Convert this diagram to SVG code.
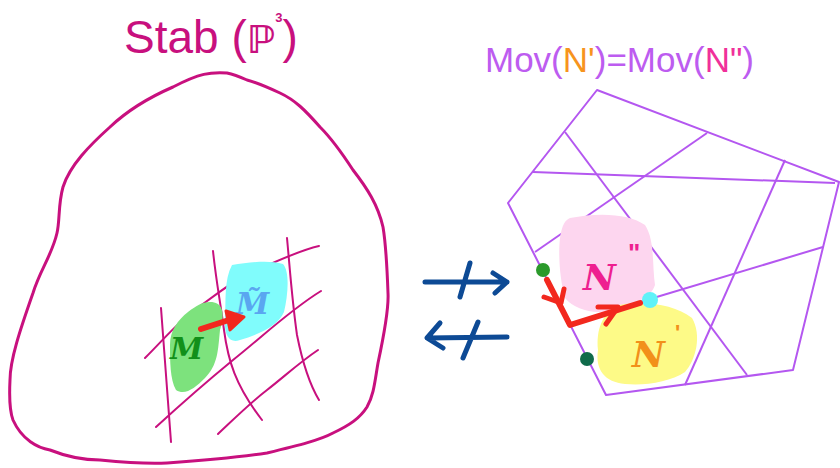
<svg xmlns="http://www.w3.org/2000/svg" width="840" height="468" viewBox="0 0 840 468">
<style>
.mag{fill:none;stroke:#c8107e;stroke-linecap:round;stroke-linejoin:round}
.pur{fill:none;stroke:#b457f0;stroke-width:2;stroke-linejoin:round}
.blu{fill:none;stroke:#0d4a95;stroke-width:5;stroke-linecap:round;stroke-linejoin:round}
.red{fill:none;stroke:#f2281e;stroke-linecap:round;stroke-linejoin:round}
.hand{font-family:"DejaVu Serif",serif;font-style:italic;font-weight:bold}
</style>
<rect width="840" height="468" fill="#fff"/>
<g id="stab">
<text x="124" y="53" font-family="Liberation Sans, sans-serif" font-size="46" fill="#c8107e">Stab (<tspan font-family="DejaVu Sans, sans-serif" font-size="38" font-weight="bold">ℙ</tspan><tspan dy="-31" font-size="13" font-weight="bold">3</tspan><tspan dy="31">)</tspan></text>
<path class="mag" stroke-width="3" d="M227,73 C210,72 200,73 173,87 C150,97 130,108 110,127 C90,145 70,165 63,187 C58,205 60,220 57,233 C52,255 40,270 33,293 C20,330 10,360 10,380 C9,400 10,412 13,420 C22,440 38,448 50,450 C70,458 90,460 100,460 C130,463 150,464 167,463 C210,460 240,457 267,453 C300,445 320,440 333,433 C350,425 360,418 367,407 C374,395 375,380 378,363 C384,335 389,310 388,293 C387,265 386,245 383,227 C378,205 367,188 353,170 C340,150 330,137 320,127 C305,110 295,100 280,93 C265,86 255,82 247,80 C238,76 232,74 227,73 Z"/>
</g>
<g id="grid">
<path class="mag" stroke-width="2" d="M161,308 L171,442"/>
<path class="mag" stroke-width="2" d="M213,251 C216,280 220,300 224,330 C228,360 235,385 262,420"/>
<path class="mag" stroke-width="2" d="M287,238 C290,270 292,300 297,335 C303,365 310,385 319,400"/>
<path class="mag" stroke-width="2" d="M145,358 C165,338 180,320 195,310 C215,295 230,283 250,273 C275,262 300,250 319,246"/>
<path class="mag" stroke-width="2" d="M156,427 C180,405 205,383 233,360 C262,337 290,310 321,291"/>
<path class="mag" stroke-width="2" d="M218,434 C235,418 250,403 267,390 C285,376 300,362 318,350"/>
</g>
<g id="m">
<path d="M210,302 C222,302 226,312 220,330 C218,350 218,365 205,378 C195,388 185,396 176,390 C170,380 170,360 170,345 C170,330 178,320 188,312 C196,306 202,302 210,302 Z" fill="#7de27d"/>
<text x="170" y="359" class="hand" font-size="30" fill="#12901a">M</text>
</g>
<g id="mtilde">
<path d="M232,265 C250,262 270,260 283,264 C290,272 288,295 284,312 C278,326 260,334 240,340 C230,344 224,336 225,320 C226,300 224,280 232,265 Z" fill="#80fcfc"/>
<text x="236" y="314" class="hand" font-size="30" fill="#5aa6f0">M̃</text>
</g>
<g id="connectors">
<path class="red" stroke-width="6" d="M201,329 L232,319"/>
<path d="M226,311 L244,317 L230,330 Z" fill="#f2281e" stroke="#f2281e" stroke-width="3" stroke-linejoin="round"/>
<path class="blu" d="M425,282 L507,282 M493,273 L507,282 L495,293 M470,263 L460,297"/>
<path class="blu" d="M427,338 L507,337 M440,323 L427,338 L443,348 M478,322 L463,358"/>
</g>
<g id="mov">
<text x="485" y="72" font-family="Liberation Sans, sans-serif" font-size="35" fill="#bd5cf0">Mov(<tspan fill="#f7941d">N'</tspan>)=Mov(<tspan fill="#f0309a">N"</tspan>)</text>
<path class="pur" d="M597,90 L839,182 L793,370 L606,395 L508,203 Z"/>
<path class="pur" d="M565,132 L747,375"/>
<path class="pur" d="M533,172 L835,183"/>
<path class="pur" d="M707,133 L535,252"/>
<path class="pur" d="M785,160 L685,385"/>
<path class="pur" d="M823,247 L640,302"/>
</g>
<g id="n2">
<path d="M570,218 C600,212 630,214 645,225 C655,240 652,265 655,285 C650,300 630,305 612,310 C595,315 575,310 565,298 C560,280 558,255 560,238 C562,225 565,220 570,218 Z" fill="#fdd6ef"/>
<text x="583" y="290" class="hand" font-size="36" fill="#ee1f90">N</text>
<text x="628" y="262" font-family="Liberation Sans, sans-serif" font-weight="bold" font-size="26" fill="#ee1f90">"</text>
</g>
<g id="n1">
<path d="M620,305 C645,300 675,305 692,318 C702,335 696,360 685,372 C670,382 645,386 625,384 C605,382 595,370 598,350 C596,330 602,312 620,305 Z" fill="#fdfa87"/>
<text x="632" y="367" class="hand" font-size="36" fill="#f2901a">N</text>
<text x="675" y="340" font-family="Liberation Sans, sans-serif" font-weight="bold" font-size="22" fill="#f2901a">'</text>
</g>
<g id="path-n">
<circle cx="543" cy="270" r="7" fill="#2b9a2b"/>
<circle cx="587" cy="359" r="7" fill="#0f6b4a"/>
<circle cx="650" cy="300" r="8" fill="#5ff2f8"/>
<path class="red" stroke-width="6" d="M547,280 L570,325 L640,303"/>
<path class="red" stroke-width="5" d="M544,297 L561,303 L564,289"/>
<path class="red" stroke-width="5" d="M598,307 L618,307 L606,324"/>
</g>
</svg>
